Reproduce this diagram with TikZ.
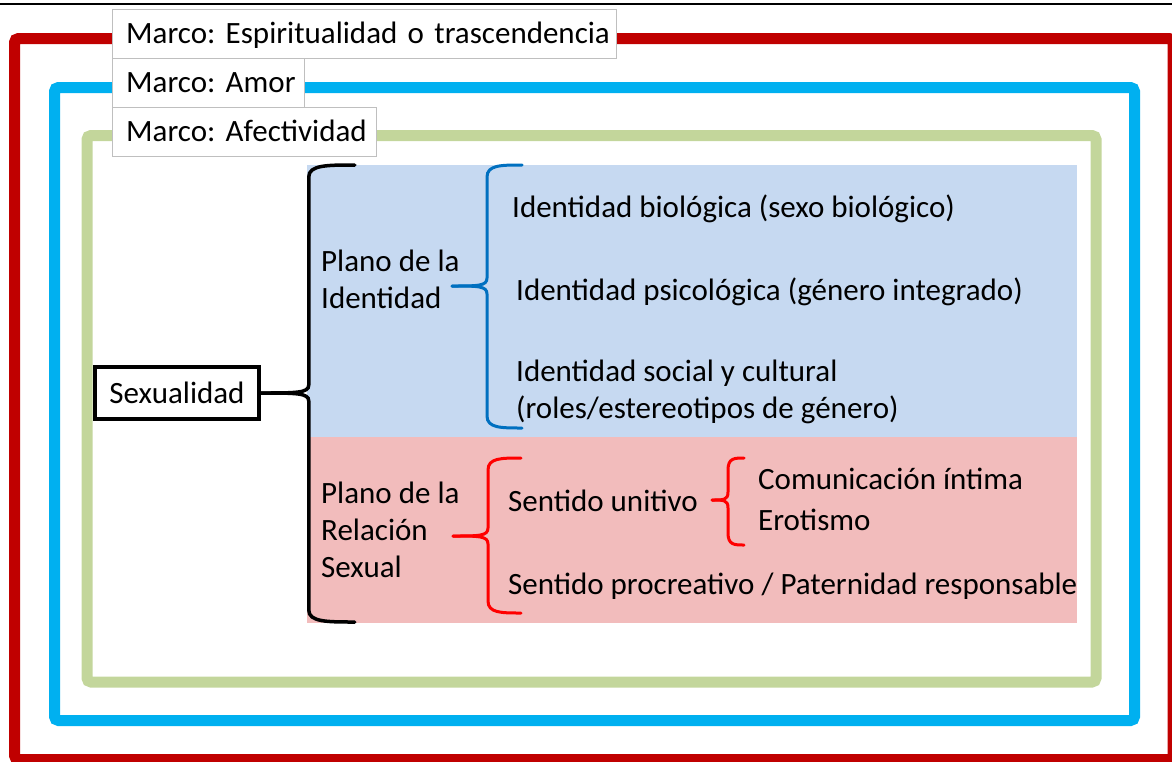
\documentclass[tikz,border=0pt]{standalone}
\usepackage{fontspec}
\setmainfont{Carlito}
\frenchspacing
\usepackage{tikz}
\usetikzlibrary{calc}
\definecolor{marcored}{RGB}{192,0,0}
\definecolor{marcoblue}{RGB}{0,176,240}
\definecolor{marcogreen}{RGB}{195,214,155}
\definecolor{boxgray}{RGB}{191,191,191}
\definecolor{identfill}{RGB}{198,217,241}
\definecolor{relfill}{RGB}{242,188,188}
\definecolor{braceblue}{RGB}{0,112,192}
\tikzset{
    every node/.style={font=\fontsize{31}{37}\selectfont},
    frame/.style={line width=11pt, rounded corners=4pt},
    marco/.style={draw=boxgray, fill=white, anchor=north west, inner xsep=14pt, inner ysep=0pt,
        minimum height=49pt, text width=#1, align=left, text height=26pt, text depth=6pt},
    plane/.style={anchor=base west, inner sep=0pt, align=left},
    item/.style={anchor=base west, inner sep=0pt, align=left},
    rootbox/.style={draw, line width=3.5pt, minimum width=164pt, minimum height=52pt, inner sep=0pt},
    bracek/.style={black, line width=3.5pt, line cap=round},
    braceb/.style={braceblue, line width=3pt, line cap=round},
    bracer/.style={red, line width=3pt, line cap=round},
}
% #1 style, #2 tip, #3 tip to spine, #4 length up, #5 length down, #6 hook length
\newcommand{\curlybrace}[6]{%
    \draw[#1] (#2) .. controls +(0.75*#3,0) and +(0,8) .. ++(#3,-8) -- ++(0,{-(#4-20)})
        .. controls +(0,-12) and +(-0.6*#6,0) .. ++(#6,-12);
    \draw[#1] (#2) .. controls +(0.75*#3,0) and +(0,-8) .. ++(#3,8) -- ++(0,{#5-20})
        .. controls +(0,12) and +(-0.6*#6,0) .. ++(#6,12);
}

\begin{document}
\begin{tikzpicture}[x=1pt, y=-1pt]
    \useasboundingbox (0,0) rectangle (1172,761);
    \draw[line width=2pt] (0,4) -- (1172,4);
    \foreach \col/\xa/\ya/\xb/\yb in {marcored/14.5/38.5/1173/759.5,
            marcoblue/54.5/87.5/1134.5/720.5, marcogreen/87/135.5/1096/682}
        \draw[frame, draw=\col] (\xa,\ya) rectangle (\xb,\yb);
    \node[marco=476pt] (espir) at (112,9) {\mbox{Marco: Espiritualidad o trascendencia}};
    \node[marco=164pt] (amor) at (112,58) {\mbox{Marco: Amor}};
    \node[marco=236pt] (afect) at (112,107) {\mbox{Marco: Afectividad}};
    \fill[identfill] (307,165) rectangle (1077,437);
    \fill[relfill] (307,437) rectangle (1077,623);
    \node[rootbox] (sex) at (177,393) {Sexualidad};
    \node[plane] (plid) at (321,308) {Plano de la\\Identidad};
    \node[plane] (plrel) at (321,577) {Plano de la\\Relación\\Sexual};
    \node[item] (idbio) at (512,217) {Identidad biológica (sexo biológico)};
    \node[item] (idpsi) at (516,300) {Identidad psicológica (género integrado)};
    \node[item] (idsoc) at (516,418) {Identidad social y cultural\\(roles/estereotipos de género)};
    \node[item] (sunit) at (508,511) {Sentido unitivo};
    \node[item] (sproc) at (508,594) {Sentido procreativo / Paternidad responsable};
    \node[item] (comun) at (758,489) {Comunicación íntima};
    \node[item] (erot) at (758,530) {Erotismo};
    \coordinate (idtip) at (452,286);
    \coordinate (reltip) at (453,536);
    \coordinate (unitip) at (712,500);
    \curlybrace{bracek}{sex.east}{48}{228}{229}{46}
    \curlybrace{braceb}{idtip}{35}{121}{142}{35}
    \curlybrace{bracer}{reltip}{35}{78}{77}{33}
    \curlybrace{bracer}{unitip}{16}{42}{45}{16}
\end{tikzpicture}
\end{document}
